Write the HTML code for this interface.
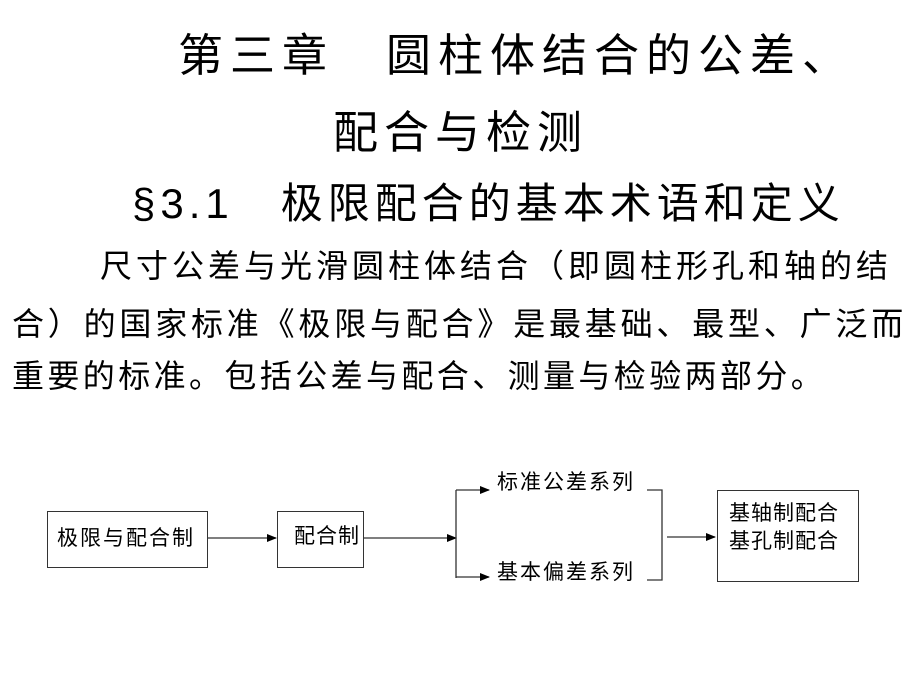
<!DOCTYPE html>
<html><head><meta charset="utf-8"><style>
html,body{margin:0;padding:0;background:#fff;}
body{width:920px;height:690px;position:relative;overflow:hidden;font-family:"Liberation Sans","Noto Sans CJK SC",sans-serif;color:#000;}
.t{position:absolute;white-space:nowrap;line-height:1;}
.box{position:absolute;border:1.5px solid #333;box-sizing:border-box;background:#fff;}
</style></head><body>
<div class="t" style="left:178px;top:33px;font-size:45px;letter-spacing:7px;">第三章　圆柱体结合的公差、</div>
<div class="t" style="left:333px;top:110px;font-size:45px;letter-spacing:6px;">配合与检测</div>
<div class="t" style="left:132px;top:183px;font-size:42px;letter-spacing:5px;">§3.1　极限配合的基本术语和定义</div>
<div class="t" style="left:100px;top:250px;font-size:32px;letter-spacing:4px;">尺寸公差与光滑圆柱体结合（即圆柱形孔和轴的结</div>
<div class="t" style="left:12px;top:308px;font-size:32px;letter-spacing:3.8px;">合）的国家标准《极限与配合》是最基础、最型、广泛而</div>
<div class="t" style="left:12px;top:360px;font-size:32px;letter-spacing:3.4px;">重要的标准。包括公差与配合、测量与检验两部分。</div>

<div class="box" style="left:47px;top:511px;width:161px;height:57px;"></div>
<div class="t" style="left:57px;top:528px;font-size:21px;letter-spacing:2px;">极限与配合制</div>
<div class="box" style="left:277px;top:511px;width:87px;height:57px;"></div>
<div class="t" style="left:294px;top:526px;font-size:21px;letter-spacing:1px;">配合制</div>
<div class="box" style="left:717px;top:490px;width:142px;height:92px;"></div>
<div class="t" style="left:729px;top:503px;font-size:21px;letter-spacing:1px;">基轴制配合</div>
<div class="t" style="left:729px;top:531px;font-size:21px;letter-spacing:1px;">基孔制配合</div>
<div class="t" style="left:497px;top:472px;font-size:21px;letter-spacing:2px;">标准公差系列</div>
<div class="t" style="left:497px;top:562px;font-size:21px;letter-spacing:2px;">基本偏差系列</div>

<svg width="920" height="690" style="position:absolute;left:0;top:0;">
<defs><marker id="a" markerWidth="10" markerHeight="8" refX="9" refY="4" orient="auto" markerUnits="userSpaceOnUse"><path d="M0,0 L10,4 L0,8 z" fill="#000"/></marker></defs>
<g stroke="#333" stroke-width="1.3" fill="none">
<line x1="208" y1="538" x2="276" y2="538" marker-end="url(#a)"/>
<line x1="364" y1="538" x2="456" y2="538" marker-end="url(#a)"/>
<polyline points="456,490 456,578"/>
<line x1="456" y1="490" x2="489" y2="490" marker-end="url(#a)"/>
<line x1="456" y1="577" x2="489" y2="577" marker-end="url(#a)"/>
<polyline points="647,490 662,490 662,580 647,580"/>
<line x1="667" y1="537" x2="715" y2="537" marker-end="url(#a)"/>
</g>
</svg>
</body></html>
